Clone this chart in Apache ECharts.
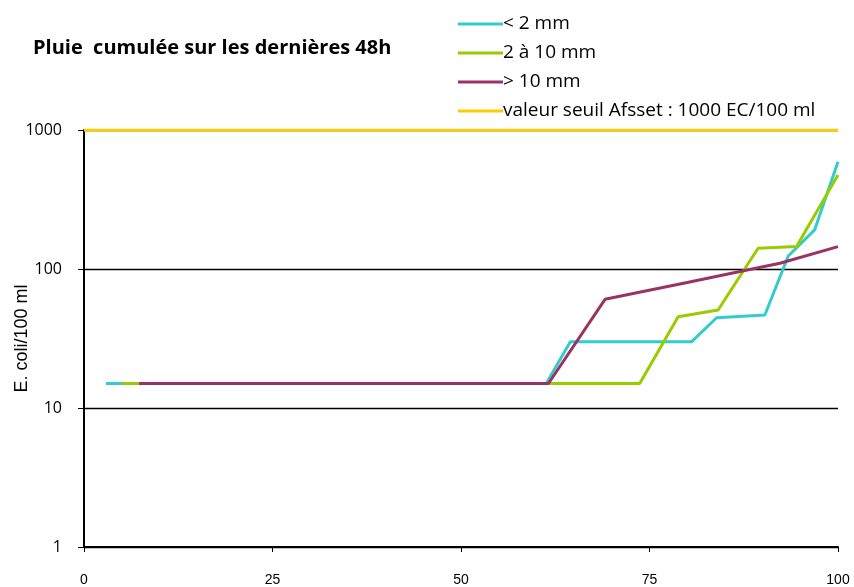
<!DOCTYPE html>
<html><head><meta charset="utf-8">
<script src="https://cdn.jsdelivr.net/npm/echarts@6/dist/echarts.min.js"></script>
<style>html,body{margin:0;padding:0;background:#fff}#c{width:854px;height:587px}</style>
</head><body><div id="c"></div>
<script>
const title = 'Pluie  cumulée sur les dernières 48h';
const yAxisName = 'E. coli/100 ml';
const xTicks = [0, 25, 50, 75, 100];
const yTicks = [1, 10, 100, 1000];
const seriesNames = ['< 2 mm', '2 à 10 mm', '> 10 mm', 'valeur seuil Afsset : 1000 EC/100 ml'];
// [percentile, E. coli/100 ml]
const lessThan2 = [[2.9,15],[10,15],[20,15],[30,15],[40,15],[50,15],[61.3,15],[64.5,30],[67.5,30],[70.8,30],[74,30],[80.6,30],[83.9,44.6],[90.3,46.7],[93.4,124],[96.9,191],[100,590]];
const from2to10 = [[5,15],[20,15],[40,15],[61.6,15],[68.4,15],[73.7,15],[78.8,45.4],[84.1,50.7],[89.4,141],[94.5,145],[100,475]];
const over10 = [[7.3,15],[30,15],[50,15],[61.6,15],[69.1,60.5],[80,80],[87,96],[92.3,110],[100,145]];
const threshold = [[0,1000],[100,1000]];
const colors = ['#33CCCC', '#99CC00', '#993366', '#FFCC00'];

const chart = echarts.init(document.getElementById('c'));
const mk = (name, data, color) => ({
  name, type: 'line', data, symbol: 'none', smooth: false,
  lineStyle: { color, width: 3 }, itemStyle: { color }
});
chart.setOption({
  animation: false,
  title: { text: title, left: 28, top: 33, textStyle: { fontFamily: 'Open Sans', fontWeight: 'bold', fontSize: 20, color: '#000' } },
  legend: {
    orient: 'vertical', left: 453, top: 8, itemWidth: 45, itemHeight: 3, itemGap: 7,
    icon: 'rect',
    textStyle: { fontFamily: 'Open Sans', fontSize: 19, color: '#000', lineHeight: 22, padding: [0,0,0,-5] },
    data: seriesNames
  },
  grid: { left: 84, right: 16, top: 130, bottom: 40, containLabel: false, outerBoundsMode: 'none' },
  xAxis: {
    type: 'value', min: 0, max: 100, interval: 25,
    axisLine: { lineStyle: { color: '#000', width: 2 } },
    axisTick: { show: true, length: 5, lineStyle: { color: '#000' } },
    axisLabel: { margin: 26, fontFamily: 'Liberation Sans', fontSize: 14, color: '#000',
      formatter: v => xTicks.includes(v) ? String(v) : '' },
    splitLine: { show: false }
  },
  yAxis: {
    type: 'log', logBase: 10, min: 1, max: 1000,
    name: yAxisName, nameLocation: 'middle', nameGap: 53, nameRotate: 90, nameMoveOverlap: false,
    nameTextStyle: { fontFamily: 'Liberation Sans', fontSize: 18, color: '#000' },
    axisLine: { show: true, lineStyle: { color: '#000', width: 2 } },
    axisTick: { show: true, length: 6, lineStyle: { color: '#000' } },
    axisLabel: { margin: 22, fontFamily: 'Open Sans', fontSize: 16, color: '#000',
      formatter: v => yTicks.includes(Math.round(v)) ? String(Math.round(v)) : '' },
    splitLine: { show: true, lineStyle: { color: '#000', width: 1.3 } }
  },
  series: [
    mk(seriesNames[0], lessThan2, colors[0]),
    mk(seriesNames[1], from2to10, colors[1]),
    mk(seriesNames[2], over10, colors[2]),
    mk(seriesNames[3], threshold, colors[3])
  ]
});
</script></body></html>
